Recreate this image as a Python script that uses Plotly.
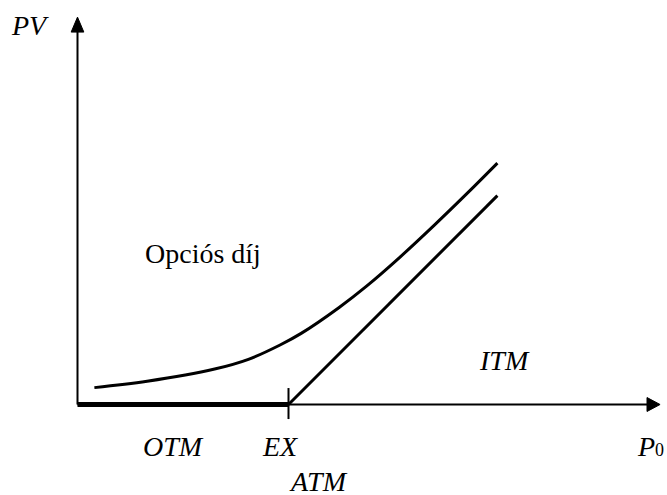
import plotly.graph_objects as go

# ---- data (arbitrary units, strike EX = 100) ----
strike = 100
curve_x = [8, 33, 65, 81, 96, 106, 124, 137, 153, 169, 185, 199]
curve_y = [8, 11, 16.8, 21.4, 28.2, 33.7, 46, 56.1, 70, 84.9, 100.4, 114.4]
intrinsic_x = [100, 199]
intrinsic_y = [0, 99]
otm_x = [0, 100]
otm_y = [0, 0]
x_axis_end = 276.1
y_axis_end = 183.6

FONT = "Liberation Serif"
SIZE = 28

fig = go.Figure()

# option value curve
fig.add_trace(go.Scatter(x=curve_x, y=curve_y, mode="lines",
                         line=dict(color="black", width=3, shape="spline", smoothing=1.0),
                         hoverinfo="skip", cliponaxis=False))
# intrinsic value line
fig.add_trace(go.Scatter(x=intrinsic_x, y=intrinsic_y, mode="lines",
                         line=dict(color="black", width=3),
                         hoverinfo="skip", cliponaxis=False))

shapes = []
# axes
shapes.append(dict(type="line", x0=0, y0=0, x1=x_axis_end - 4, y1=0,
                   line=dict(color="black", width=2)))
shapes.append(dict(type="line", x0=0, y0=0, x1=0, y1=y_axis_end - 5,
                   line=dict(color="black", width=2)))
# thick OTM segment
shapes.append(dict(type="line", x0=otm_x[0], y0=otm_y[0], x1=otm_x[1], y1=otm_y[1],
                   line=dict(color="black", width=5)))
# EX tick
shapes.append(dict(type="line", x0=strike, y0=7.8, x1=strike, y1=-6.9,
                   line=dict(color="black", width=2)))
# arrow heads
hx = x_axis_end
shapes.append(dict(type="path",
                   path=f"M {hx},0 L {hx-6.2},3.3 L {hx-6.2},-3.3 Z",
                   fillcolor="black", line=dict(color="black", width=1)))
hy = y_axis_end
shapes.append(dict(type="path",
                   path=f"M 0,{hy} L -3.0,{hy-7.1} L 3.0,{hy-7.1} Z",
                   fillcolor="black", line=dict(color="black", width=1)))

def label(text, x, y, xanchor="center"):
    return dict(text=text, x=x, y=y, xref="x", yref="y", showarrow=False,
                xanchor=xanchor, yanchor="middle",
                font=dict(family=FONT, size=SIZE, color="black"))

annotations = [
    label("<i>PV</i>", -22.5, 179.8),
    label("<i>OTM</i>", 45.7, -19.8),
    label("<i>EX</i>", 96, -19.8),
    label("<i>ATM</i>", 114, -36.4),
    label("<i>ITM</i>", 202.6, 21),
    label("Opciós díj", 59.5, 71.5),
    label("<i>P</i><span style='font-size:18px'>0</span>", 264.2, -19.8, "left"),
]

fig.update_layout(
    width=667, height=495,
    margin=dict(l=0, r=0, t=0, b=0),
    paper_bgcolor="white", plot_bgcolor="white",
    showlegend=False,
    hovermode=False,
    shapes=shapes,
    annotations=annotations,
    xaxis=dict(range=[-36.73, 279.38], visible=False, fixedrange=True),
    yaxis=dict(range=[-42.89, 191.71], visible=False, fixedrange=True),
)

# remove the default 8px page margin so the figure fills the window exactly
fig.write_html("out.html",
               config={"displayModeBar": False, "staticPlot": True},
               post_script="document.body.style.margin='0';document.body.style.overflow='hidden';")
